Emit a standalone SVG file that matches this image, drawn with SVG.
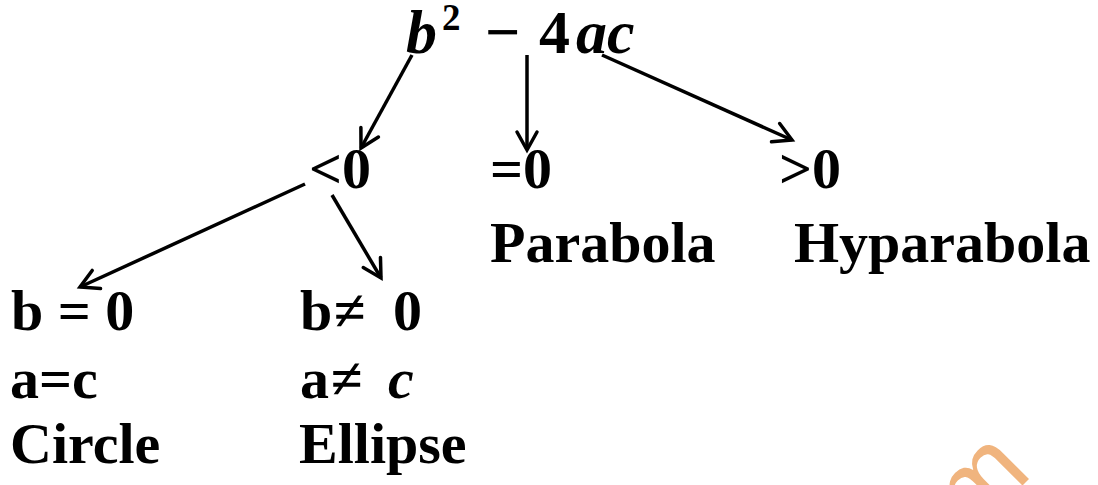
<svg xmlns="http://www.w3.org/2000/svg" width="1098" height="485" viewBox="0 0 1098 485">
<style>
.t{font-family:"Liberation Serif","Times New Roman",serif;font-weight:bold;font-size:58px;fill:#000}
.m{font-family:"Liberation Serif","Times New Roman",serif;font-weight:bold;font-size:62px;fill:#000}
.i{font-style:italic}
.c{fill:none;stroke:#000;stroke-width:3.5}
.wm{font-family:"Liberation Sans",Arial,sans-serif;font-size:105px;fill:#f0b47e}
</style>
<defs>
<marker id="arr" markerUnits="userSpaceOnUse" markerWidth="30" markerHeight="30" viewBox="-25 -15 30 30" refX="0" refY="0" orient="auto">
<path d="M-18,-10 L0,0 L-18,10" fill="none" stroke="#000" stroke-width="3.5" stroke-linecap="round" stroke-linejoin="miter"/>
</marker>
</defs>
<rect width="1098" height="485" fill="#fff"/>
<g id="watermark">
<text class="wm" transform="translate(972,536) rotate(-45)">m</text>
</g>
<g id="connectors">
<line class="c" x1="412" y1="55" x2="361" y2="148" marker-end="url(#arr)"/>
<line class="c" x1="527" y1="55" x2="527" y2="150" marker-end="url(#arr)"/>
<line class="c" x1="602" y1="55" x2="792" y2="140" marker-end="url(#arr)"/>
<line class="c" x1="305" y1="184" x2="80" y2="287" marker-end="url(#arr)"/>
<line class="c" x1="332" y1="195" x2="381" y2="278" marker-end="url(#arr)"/>
</g>
<g id="root">
<text class="m"><tspan class="i" x="406" y="53">b</tspan><tspan x="442" y="30" style="font-size:37px">2</tspan><tspan x="485" y="53">−</tspan><tspan x="539" y="53">4</tspan><tspan class="i" x="576" y="53">a</tspan><tspan class="i" x="607" y="53">c</tspan></text>
</g>
<g id="lt0"><text class="t" x="309" y="188">&lt;0</text></g>
<g id="eq0"><text class="t" x="490" y="188">=0</text><text class="t" x="490" y="262">Parabola</text></g>
<g id="gt0"><text class="t" x="779" y="188">&gt;0</text><text class="t" x="794" y="262">Hyparabola</text></g>
<g id="circle">
<text class="t" x="11" y="330">b = 0</text>
<text class="t" x="10" y="398">a=c</text>
<text class="t" x="10" y="463">Circle</text>
</g>
<g id="ellipse">
<text class="t" y="330"><tspan x="300">b</tspan><tspan x="334">≠</tspan><tspan x="393">0</tspan></text>
<text class="t" y="398"><tspan x="300">a</tspan><tspan x="331">≠</tspan><tspan class="i" x="388">c</tspan></text>
<text class="t" x="299" y="463">Ellipse</text>
</g>
</svg>
